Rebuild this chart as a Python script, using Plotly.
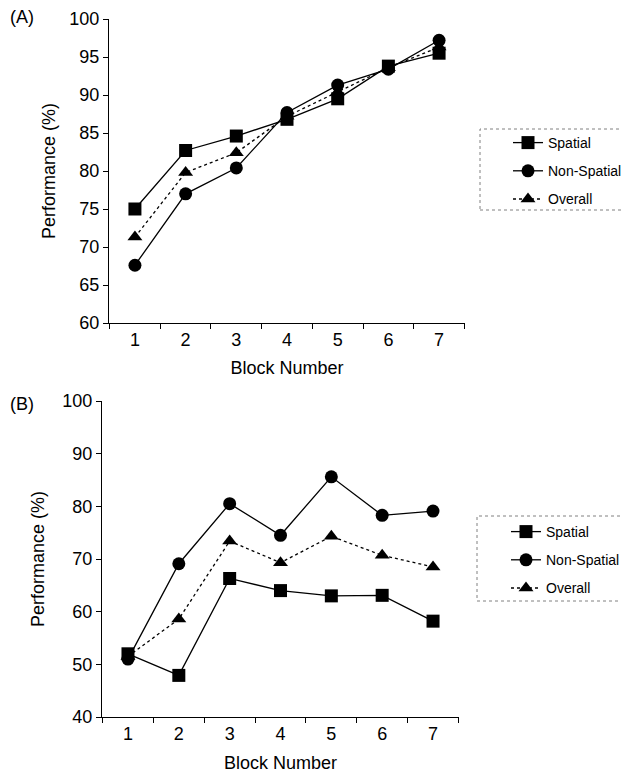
import plotly.graph_objects as go

blocks = ["1", "2", "3", "4", "5", "6", "7"]

# Panel A
a_spatial = [75.0, 82.7, 84.6, 86.8, 89.5, 93.8, 95.5]
a_nonspatial = [67.6, 77.0, 80.4, 87.7, 91.3, 93.4, 97.2]
a_overall = [71.3, 79.8, 82.4, 87.2, 90.4, 93.6, 96.3]

# Panel B
b_spatial = [52.0, 47.9, 66.3, 64.0, 63.0, 63.1, 58.2]
b_nonspatial = [51.0, 69.1, 80.5, 74.5, 85.6, 78.3, 79.1]
b_overall = [51.5, 58.6, 73.4, 69.3, 74.3, 70.7, 68.5]

series_names = ["Spatial", "Non-Spatial", "Overall"]

OFF = 8  # default page body margin
W, H = 629 - OFF, 774 - OFF
FONT = "Liberation Sans, Arial, sans-serif"

fig = go.Figure()

styles = [
    dict(symbol="square", size=13, dash="solid"),
    dict(symbol="circle", size=13, dash="solid"),
    dict(symbol="triangle-up", size=13, dash="dot"),
]

for panel, data, xa, ya, leg in [
    ("A", [a_spatial, a_nonspatial, a_overall], "x", "y", "legend"),
    ("B", [b_spatial, b_nonspatial, b_overall], "x2", "y2", "legend2"),
]:
    for name, vals, st in zip(series_names, data, styles):
        fig.add_trace(go.Scatter(
            x=blocks, y=vals, name=name, mode="lines+markers",
            xaxis=xa, yaxis=ya, legend=leg, legendgroup=panel + name,
            line=dict(color="black", width=1.3, dash=st["dash"]),
            marker=dict(symbol=st["symbol"], size=st["size"], color="black"),
        ))

def px_x(p):
    return (p - OFF) / W

def px_y(p):
    return 1 - (p - OFF) / H

axis_common = dict(
    showline=True, linecolor="black", linewidth=1.3, showgrid=False,
    zeroline=False, ticks="outside", tickcolor="black", ticklen=5,
    tickwidth=1.3, mirror=False, automargin=False,
)

fig.update_layout(
    width=W, height=H,
    margin=dict(l=0, r=0, t=0, b=0),
    paper_bgcolor="white", plot_bgcolor="white",
    font=dict(family=FONT, color="black", size=18),
    xaxis=dict(
        axis_common, type="category", tickson="boundaries",
        domain=[px_x(109), px_x(465)], anchor="y",
        tickfont=dict(size=18),
        title=dict(text="Block Number", font=dict(size=18), standoff=12),
    ),
    yaxis=dict(
        axis_common, range=[60, 100], dtick=5,
        domain=[px_y(323), px_y(19)], anchor="x",
        tickfont=dict(size=18),
        title=dict(text="Performance (%)", font=dict(size=18), standoff=8),
    ),
    xaxis2=dict(
        axis_common, type="category", tickson="boundaries",
        domain=[px_x(102), px_x(459)], anchor="y2",
        tickfont=dict(size=18),
        title=dict(text="Block Number", font=dict(size=18), standoff=13),
    ),
    yaxis2=dict(
        axis_common, range=[40, 100], dtick=10,
        domain=[px_y(717), px_y(401)], anchor="x2",
        tickfont=dict(size=18),
        title=dict(text="Performance (%)", font=dict(size=18), standoff=12),
    ),
    legend=dict(
        x=px_x(508), y=px_y(127), xanchor="left", yanchor="top",
        font=dict(size=14), bgcolor="rgba(0,0,0,0)", borderwidth=0,
        tracegroupgap=7, traceorder="grouped",
    ),
    legend2=dict(
        x=px_x(506), y=px_y(516), xanchor="left", yanchor="top",
        font=dict(size=14), bgcolor="rgba(0,0,0,0)", borderwidth=0,
        tracegroupgap=7, traceorder="grouped",
    ),
    showlegend=True,
    shapes=[
        dict(type="rect", xref="paper", yref="paper",
             x0=px_x(480), x1=px_x(626), y0=px_y(210), y1=px_y(129),
             line=dict(color="gray", width=1, dash="dot")),
        dict(type="rect", xref="paper", yref="paper",
             x0=px_x(477), x1=px_x(626), y0=px_y(601), y1=px_y(516),
             line=dict(color="gray", width=1, dash="dot")),
    ],
    annotations=[
        dict(text="(A)", x=px_x(8), y=px_y(17), xref="paper", yref="paper",
             xanchor="left", yanchor="middle", showarrow=False, font=dict(size=18)),
        dict(text="(B)", x=px_x(8), y=px_y(404), xref="paper", yref="paper",
             xanchor="left", yanchor="middle", showarrow=False, font=dict(size=18)),
    ],
)

fig.write_html("out.html")
